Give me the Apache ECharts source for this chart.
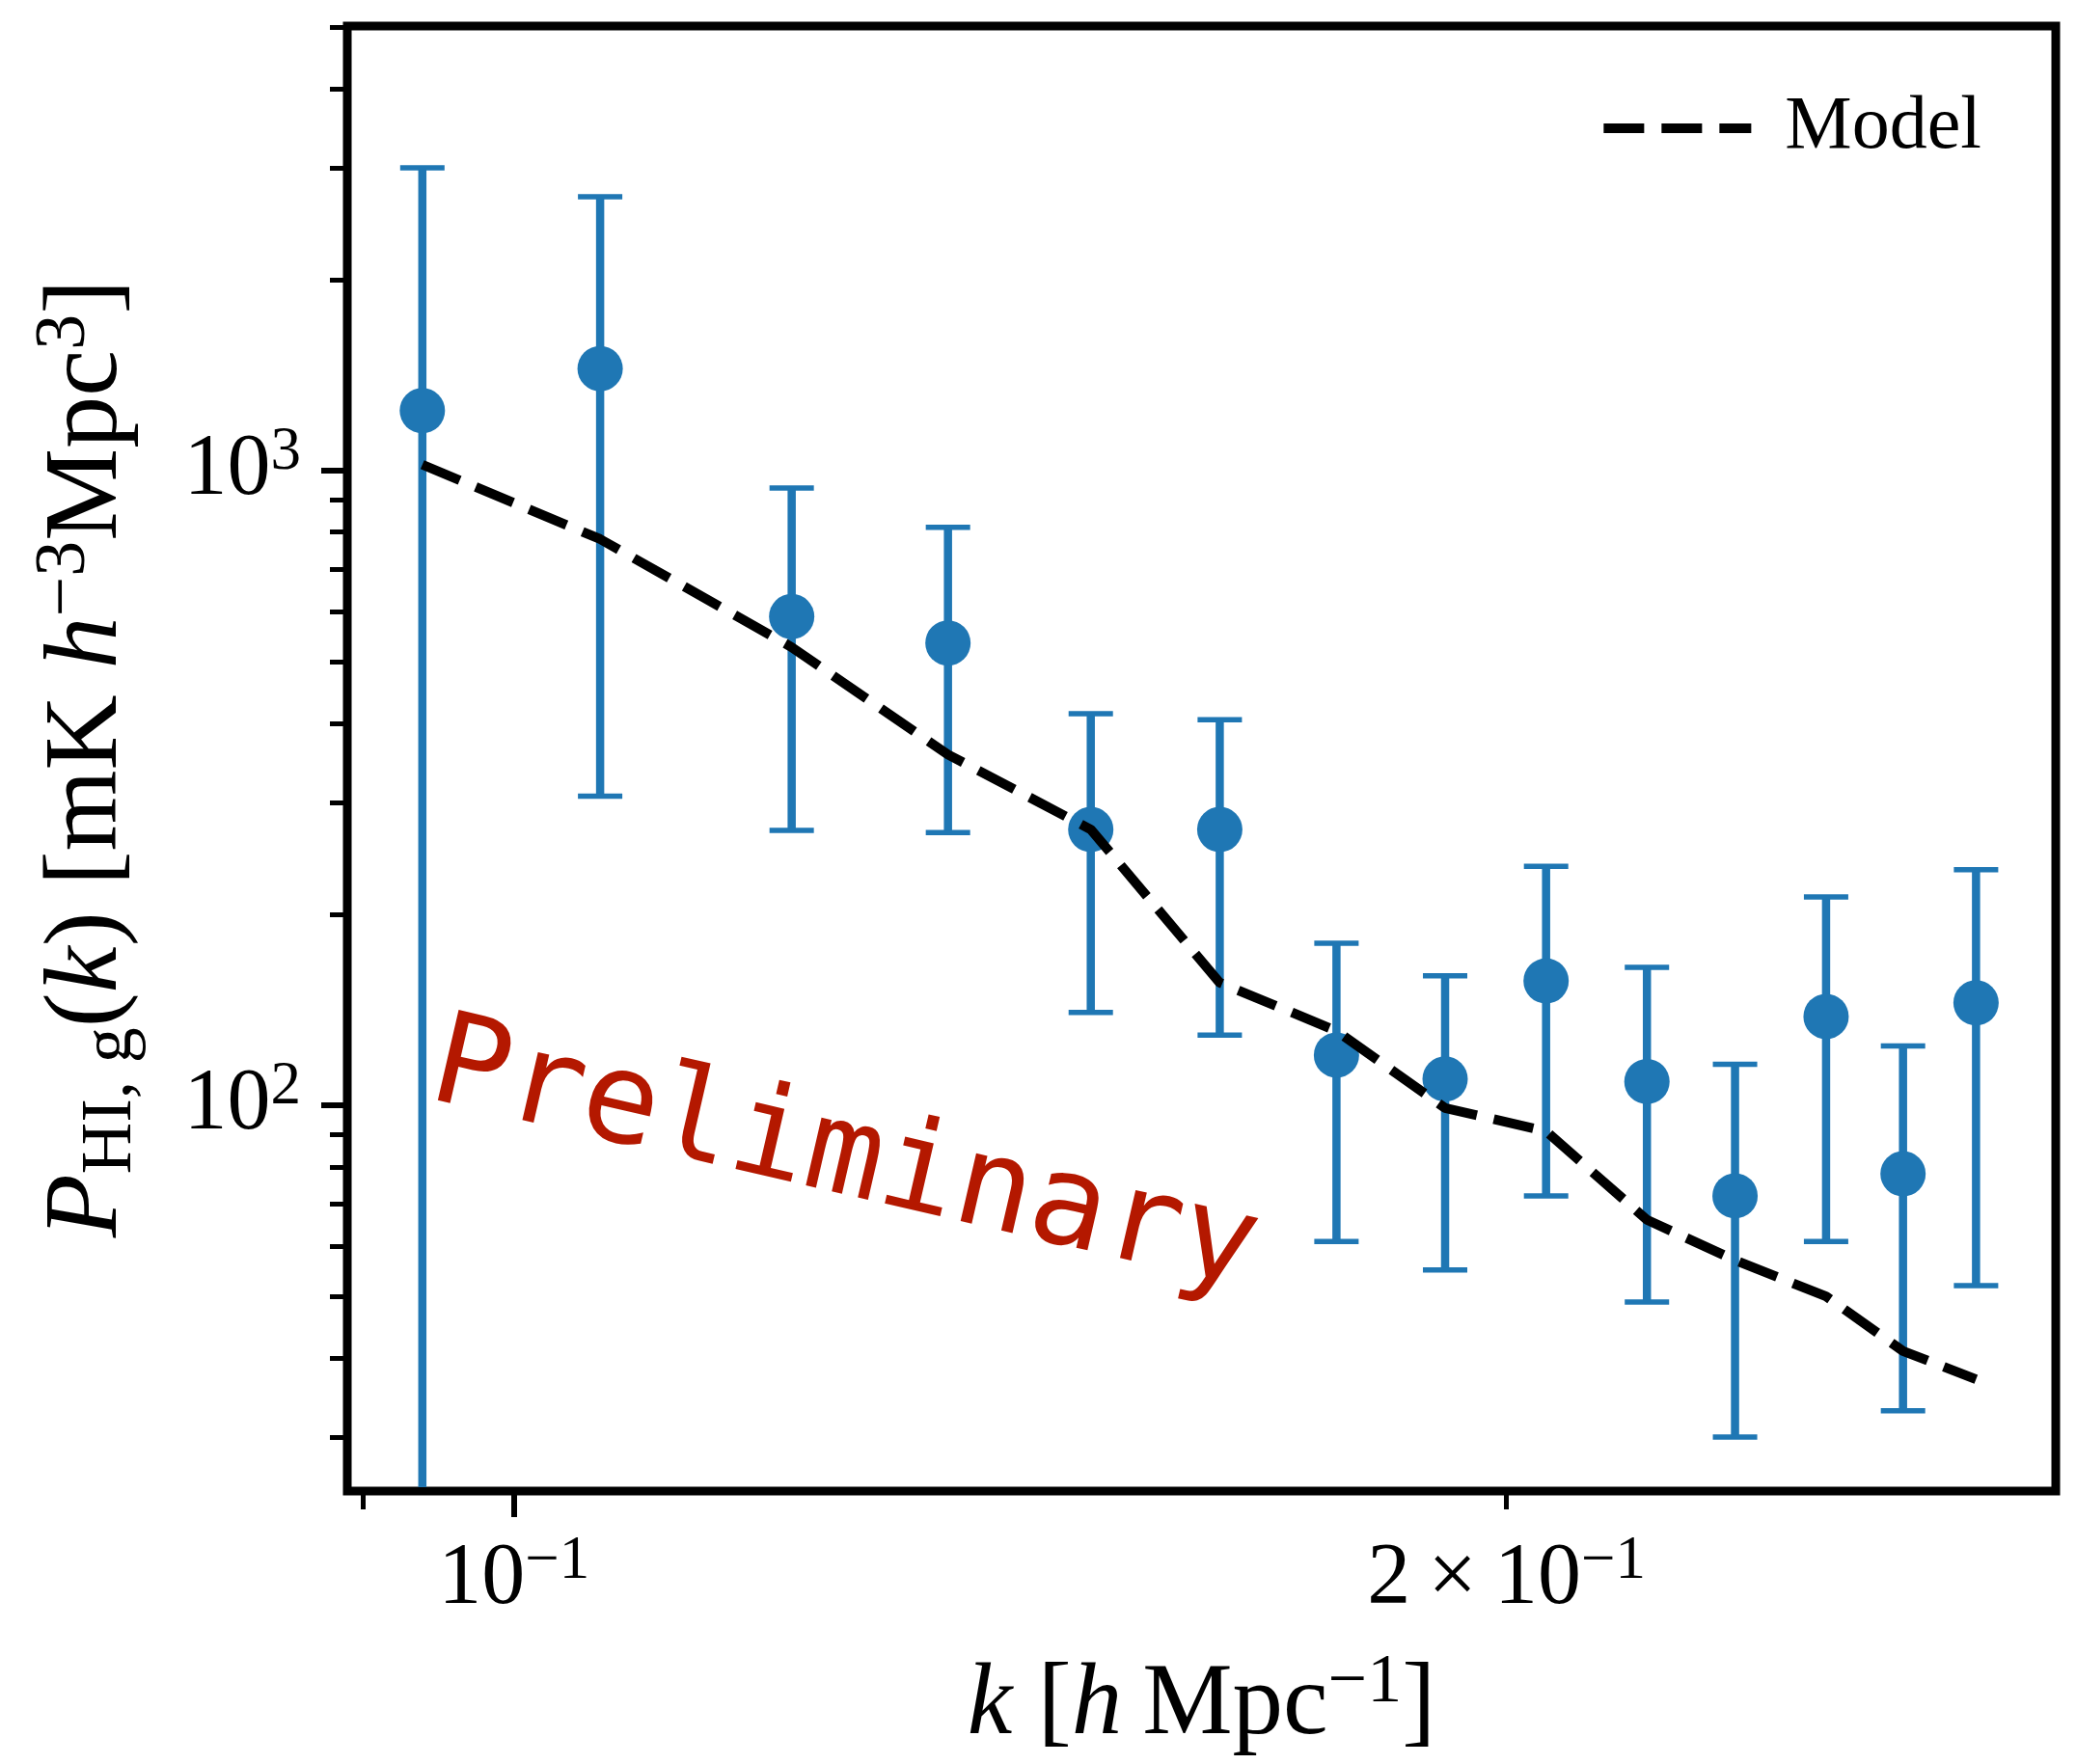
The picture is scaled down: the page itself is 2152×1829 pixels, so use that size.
<!DOCTYPE html>
<html>
<head>
<meta charset="utf-8">
<script src="https://cdn.jsdelivr.net/npm/echarts@6/dist/echarts.min.js"></script>
<style>
html,body{margin:0;padding:0;background:#fff;}
#chart{width:2152px;height:1829px;}
</style>
</head>
<body>
<div id="chart"></div>
<script>
// ---- data ----
const kValues     = [0.0938, 0.1062, 0.1214, 0.1354, 0.1496, 0.1637, 0.1776, 0.1916, 0.2056, 0.2206, 0.2346, 0.2500, 0.2638, 0.2776];
const pValues     = [1243, 1448, 589, 535, 272, 272, 120, 110, 157, 109, 72, 138, 78, 145];
const pUpper      = [3000, 2700, 939, 814, 414, 405, 180, 160, 238, 165, 116, 213, 124, 235];
const pLower      = [1, 307, 271, 269, 140, 129, 61, 55, 72, 49, 30, 61, 33, 52];
const modelValues = [1022, 780, 527, 357, 272, 156, 131, 99, 91, 66, 57, 50, 41, 37];

const xRange = [0.08901, 0.29349];
const yRange = [24.67, 5018];

const xMajorTicks = [0.1];
const xMajorTickLabels = ['10^−1'];
const xMinorTicks = [0.09, 0.2];
const xMinorLabelValues = [0.2];
const xMinorTickLabels = ['2\u2009×\u200910^−1'];

const yMajorTicks = [100, 1000];
const yMajorTickLabels = ['10^2', '10^3'];
const yMinorTicks = [30, 40, 50, 60, 70, 80, 90, 200, 300, 400, 500, 600, 700, 800, 900, 2000, 3000, 4000, 5000];

const seriesNames = ['Model'];
const watermark = 'Preliminary';

// ---- helpers ----
const SERIF = 'Liberation Serif';
const BLUE = '#1f77b4';
function toRich(label) {
  const parts = label.split('^');
  return parts.length > 1 ? '{n|' + parts[0] + '}{s|' + parts[1] + '}' : '{n|' + parts[0] + '}';
}
function makeFormatter(values, labels) {
  return function (v) {
    const i = values.findIndex(t => Math.abs(t - v) / t < 1e-6);
    return i >= 0 ? toRich(labels[i]) : '';
  };
}
const tickRich = {
  n: { fontFamily: SERIF, fontSize: 90, lineHeight: 100, color: '#000' },
  s: { fontFamily: SERIF, fontSize: 63, lineHeight: 63, color: '#000', verticalAlign: 'top' }
};
const xNameRich = {
  n:   { fontFamily: SERIF, fontSize: 105, lineHeight: 120, color: '#000' },
  i:   { fontFamily: SERIF, fontSize: 105, lineHeight: 120, color: '#000', fontStyle: 'italic' },
  sub: { fontFamily: SERIF, fontSize: 72, lineHeight: 72, color: '#000', verticalAlign: 'bottom' },
  sup: { fontFamily: SERIF, fontSize: 72, lineHeight: 72, color: '#000', verticalAlign: 'top' }
};
const yNameRich = {
  n:   { fontFamily: SERIF, fontSize: 108, lineHeight: 122, color: '#000' },
  i:   { fontFamily: SERIF, fontSize: 108, lineHeight: 122, color: '#000', fontStyle: 'italic' },
  sub: { fontFamily: SERIF, fontSize: 74, lineHeight: 74, color: '#000', verticalAlign: 'bottom' },
  sup: { fontFamily: SERIF, fontSize: 74, lineHeight: 74, color: '#000', verticalAlign: 'top' }
};

const errData = kValues.map((k, i) => [k, pLower[i], pUpper[i]]);
const pointData = kValues.map((k, i) => [k, pValues[i]]);
const modelData = kValues.map((k, i) => [k, modelValues[i]]);

const chart = echarts.init(document.getElementById('chart'), null, { renderer: 'canvas' });

const baseX = {
  type: 'log', logBase: 10, min: xRange[0], max: xRange[1], position: 'bottom',
  axisLine: { show: false, onZero: false }, splitLine: { show: false },
  minorTick: { show: false }, minorSplitLine: { show: false }
};
const baseY = {
  type: 'log', logBase: 10, min: yRange[0], max: yRange[1], position: 'left',
  axisLine: { show: false, onZero: false }, splitLine: { show: false },
  minorTick: { show: false }, minorSplitLine: { show: false }
};

chart.setOption({
  animation: false,
  backgroundColor: '#fff',
  grid: {
    left: 360, right: 21, top: 27, bottom: 283,
    show: true, borderColor: '#000', borderWidth: 9, backgroundColor: 'transparent'
  },
  legend: {
    data: seriesNames,
    right: 98, top: 88, padding: 0, itemGap: 0,
    itemWidth: 153, itemHeight: 20,
    itemStyle: { color: '#000', borderWidth: 0, opacity: 0 },
    lineStyle: { width: 10, color: '#000', type: [42, 18], cap: 'butt', opacity: 1 },
    textStyle: { fontFamily: SERIF, fontSize: 78, lineHeight: 90, color: '#000', padding: [0, 0, 0, 30] }
  },
  xAxis: [
    Object.assign({}, baseX, {
      axisTick: { show: true, customValues: xMajorTicks, length: 27, lineStyle: { color: '#000', width: 6 } },
      axisLabel: { show: true, customValues: xMajorTicks, margin: 42, formatter: makeFormatter(xMajorTicks, xMajorTickLabels), rich: tickRich },
      name: '{i|k}{n| [}{i|h}{n|\u2009Mpc}{sup|−1}{n|]}',
      nameLocation: 'middle', nameGap: 163,
      nameTextStyle: { rich: xNameRich }
    }),
    Object.assign({}, baseX, {
      axisTick: { show: true, customValues: xMinorTicks, length: 19, lineStyle: { color: '#000', width: 5 } },
      axisLabel: { show: true, customValues: xMinorLabelValues, margin: 42, formatter: makeFormatter(xMinorLabelValues, xMinorTickLabels), rich: tickRich }
    })
  ],
  yAxis: [
    Object.assign({}, baseY, {
      axisTick: { show: true, customValues: yMajorTicks, length: 27, lineStyle: { color: '#000', width: 6 } },
      axisLabel: { show: true, customValues: yMajorTicks, margin: 48, formatter: makeFormatter(yMajorTicks, yMajorTickLabels), rich: tickRich },
      name: '{i|P}{sub|HI, g}{n|(}{i|k}{n|) [mK }{i|h}{sup|−3}{n|Mpc}{sup|3}{n|]}',
      nameLocation: 'middle', nameGap: 207, nameRotate: 90,
      nameTextStyle: { rich: yNameRich }
    }),
    Object.assign({}, baseY, {
      axisTick: { show: true, customValues: yMinorTicks, length: 18, lineStyle: { color: '#000', width: 5 } },
      axisLabel: { show: false }
    })
  ],
  series: [
    {
      type: 'custom', name: 'errors', xAxisIndex: 0, yAxisIndex: 0, z: 2,
      data: errData,
      encode: { x: 0, y: [1, 2] },
      renderItem: function (params, api) {
        const cs = params.coordSys;
        const x = api.value(0);
        const top = api.coord([x, api.value(2)]);
        const bot = api.coord([x, api.value(1)]);
        const bottomLimit = cs.y + cs.height - 4;
        const clipped = bot[1] > bottomLimit;
        const yBot = clipped ? bottomLimit : bot[1];
        const half = 23;
        const children = [
          { type: 'line', shape: { x1: top[0], y1: top[1], x2: top[0], y2: yBot }, style: { stroke: BLUE, lineWidth: 8.5 } },
          { type: 'line', shape: { x1: top[0] - half, y1: top[1], x2: top[0] + half, y2: top[1] }, style: { stroke: BLUE, lineWidth: 5.5 } }
        ];
        if (!clipped) {
          children.push({ type: 'line', shape: { x1: bot[0] - half, y1: bot[1], x2: bot[0] + half, y2: bot[1] }, style: { stroke: BLUE, lineWidth: 5.5 } });
        }
        return { type: 'group', children: children };
      }
    },
    {
      type: 'scatter', name: 'data', xAxisIndex: 0, yAxisIndex: 0, z: 3,
      data: pointData, symbol: 'circle', symbolSize: 47,
      itemStyle: { color: BLUE, opacity: 1 }
    },
    {
      type: 'line', name: seriesNames[0], xAxisIndex: 0, yAxisIndex: 0, z: 4,
      data: modelData, symbol: 'none', smooth: false, color: '#000',
      itemStyle: { color: '#000' },
      lineStyle: { color: '#000', width: 10, type: [42, 18], cap: 'butt' }
    }
  ],
  graphic: [
    {
      type: 'text', x: 875, y: 1203, rotation: -13 * Math.PI / 180, z: 100,
      style: { text: watermark, fontFamily: 'DejaVu Sans Mono', fontSize: 132, fill: 'rgb(180,24,0)', align: 'center', verticalAlign: 'middle' }
    }
  ]
});
</script>
</body>
</html>
